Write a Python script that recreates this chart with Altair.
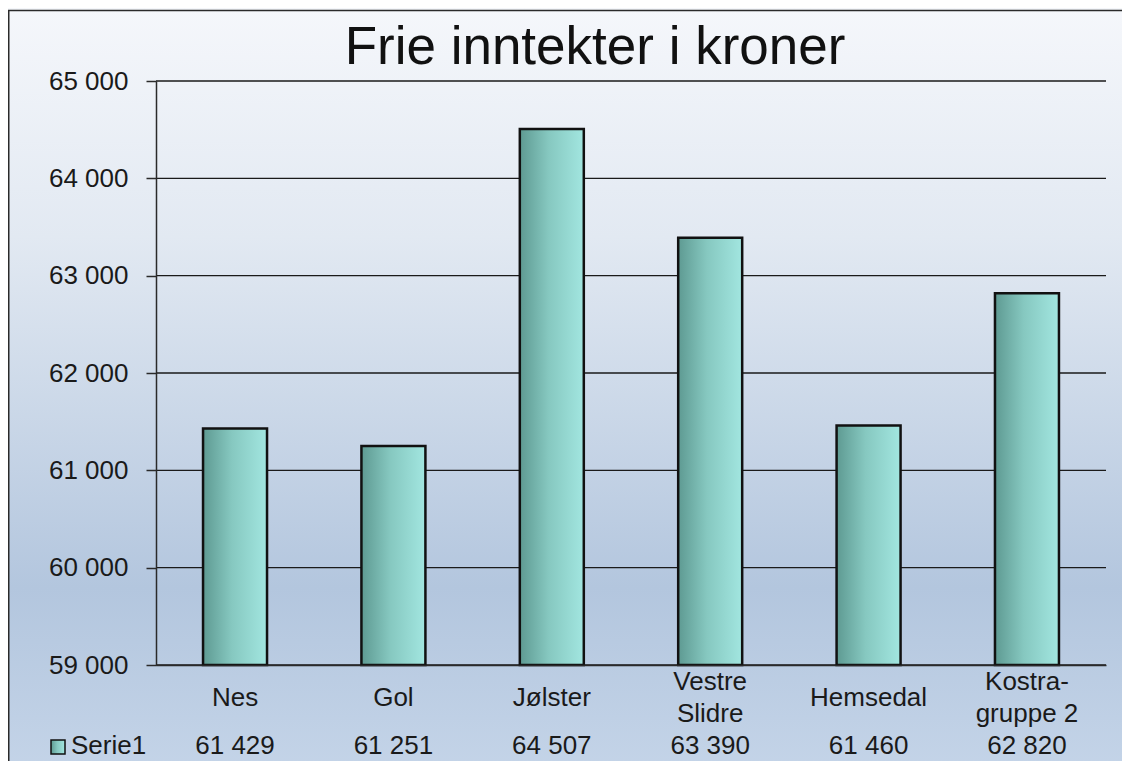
import altair as alt
import pandas as pd

categories = ["Nes", "Gol", "Jølster", "Vestre\nSlidre", "Hemsedal", "Kostra-\ngruppe 2"]
values = [61429, 61251, 64507, 63390, 61460, 62820]
y_ticks = [59000, 60000, 61000, 62000, 63000, 64000, 65000]
title_text = "Frie inntekter i kroner"
series_name = "Serie1"

df = pd.DataFrame({"kategori": categories, "verdi": values})
ticks_df = pd.DataFrame({"t": y_ticks})
one = pd.DataFrame({"d": [0]})

FONT = "Liberation Sans"
FS = 26
TXT = "#1a1a1a"
W, H = 950, 584
PL, PT, PR, PB = 148, 73, 16, 96

bg_grad = alt.LinearGradient(
    gradient="linear", x1=0, x2=0, y1=0, y2=1,
    stops=[
        alt.GradientStop(color="#f5f7fb", offset=0),
        alt.GradientStop(color="#e2e9f2", offset=0.3),
        alt.GradientStop(color="#b3c6de", offset=0.76),
        alt.GradientStop(color="#c4d4e8", offset=1),
    ],
)
bar_grad = alt.LinearGradient(
    gradient="linear", x1=0, x2=1, y1=0, y2=0,
    stops=[
        alt.GradientStop(color="#5e9a92", offset=0),
        alt.GradientStop(color="#86c8c0", offset=0.45),
        alt.GradientStop(color="#a2e6e0", offset=1),
    ],
)

background = alt.Chart(one).mark_rect(fill=bg_grad).encode(
    x=alt.value(-PL), x2=alt.value(W + PR + 10),
    y=alt.value(-PT), y2=alt.value(H + PB + 10),
)
frame = alt.Chart(one).mark_rect(fill="transparent", stroke="#2a2a2a", strokeWidth=1.5).encode(
    x=alt.value(-PL + 0.75), x2=alt.value(W + PR + 20),
    y=alt.value(-PT + 2.5), y2=alt.value(H + PB + 20),
)

xscale = alt.Scale(paddingInner=0.596, paddingOuter=0.297)
yscale = alt.Scale(domain=[59000, 65000], zero=False, nice=False)
xenc = alt.X("kategori:N", sort=categories, scale=xscale)

grid = alt.Chart(ticks_df).mark_rule(color="#1a1a1a", strokeWidth=1.3).encode(
    y=alt.Y("t:Q", scale=yscale),
    x=alt.value(0), x2=alt.value(W),
)

bars = alt.Chart(df).mark_bar(fill=bar_grad, stroke="#111111", strokeWidth=2.5).encode(
    x=alt.X("kategori:N", sort=categories, scale=xscale,
            axis=alt.Axis(title=None, labels=False, ticks=False,
                          domainColor="#2a2a2a", domainWidth=1.5, grid=False, zindex=1)),
    y=alt.Y("verdi:Q", scale=yscale,
            axis=alt.Axis(title=None, values=y_ticks, tickSize=10, tickColor="#2a2a2a",
                          tickWidth=1.5, labelPadding=18, labelFontSize=FS, labelFont=FONT,
                          labelColor=TXT,
                          labelExpr="replace(format(datum.value, ','), ',', ' ')",
                          domainColor="#2a2a2a", domainWidth=1.5,
                          grid=False, zindex=1)),
    y2=alt.datum(59000),
)

lab_base = alt.Chart(df).transform_calculate(
    parts="split(datum.kategori, '\\n')"
).transform_calculate(
    n="length(datum.parts)",
    l1="datum.parts[0]",
    l2="length(datum.parts) > 1 ? datum.parts[1] : ''",
)
lab_single = lab_base.transform_filter("datum.n == 1").mark_text(
    fontSize=FS, font=FONT, color=TXT, baseline="middle"
).encode(x=xenc, y=alt.value(617), text="l1:N")
lab_top = lab_base.transform_filter("datum.n == 2").mark_text(
    fontSize=FS, font=FONT, color=TXT, baseline="middle"
).encode(x=xenc, y=alt.value(601), text="l1:N")
lab_bot = lab_base.transform_filter("datum.n == 2").mark_text(
    fontSize=FS, font=FONT, color=TXT, baseline="middle"
).encode(x=xenc, y=alt.value(633), text="l2:N")

table_row = alt.Chart(df).transform_calculate(
    txt="replace(format(datum.verdi, ','), ',', ' ')"
).mark_text(fontSize=FS, font=FONT, color=TXT, baseline="middle").encode(
    x=xenc, y=alt.value(665), text="txt:N",
)

legend_box = alt.Chart(one).mark_rect(fill=bar_grad, stroke="#111111", strokeWidth=1.5).encode(
    x=alt.value(-105), x2=alt.value(-91), y=alt.value(659), y2=alt.value(673),
)
legend_text = alt.Chart(one).mark_text(fontSize=FS, font=FONT, color=TXT,
                                       align="left", baseline="middle").encode(
    x=alt.value(-85), y=alt.value(665), text=alt.value(series_name),
)
title = alt.Chart(one).mark_text(fontSize=53, font=FONT, color="#111111",
                                 align="center", baseline="alphabetic").encode(
    x=alt.value(439), y=alt.value(-17), text=alt.value(title_text),
)

chart = alt.layer(background, frame, grid, bars, lab_single, lab_top, lab_bot,
                  table_row, legend_box, legend_text, title).properties(
    width=W, height=H,
    autosize=alt.AutoSizeParams(type="none"),
    padding={"left": PL, "top": PT, "right": PR, "bottom": PB},
).configure_view(stroke=None).configure(font=FONT)

chart.save("out.html", embed_options={"renderer": "svg", "actions": False})
